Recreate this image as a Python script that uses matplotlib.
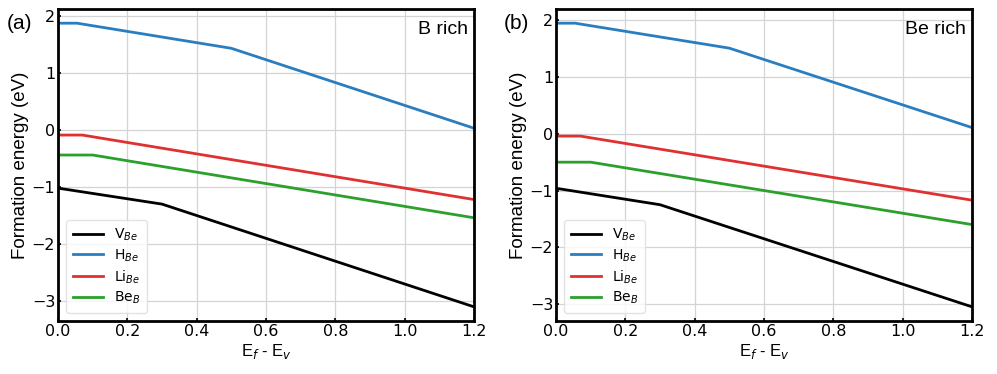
import matplotlib
matplotlib.use("Agg")
import matplotlib.pyplot as plt

# Fermi level break points and formation energies
x_v = [0.0, 0.3, 1.2]
x_h = [0.0, 0.055, 0.5, 1.2]
x_li = [0.0, 0.07, 1.2]
x_beb = [0.0, 0.1, 1.2]

# (a) B rich
v_a = [-1.02, -1.30, -3.10]
h_a = [1.87, 1.87, 1.43, 0.03]
li_a = [-0.09, -0.09, -1.22]
beb_a = [-0.44, -0.44, -1.54]

# (b) Be rich
v_b = [-0.96, -1.25, -3.05]
h_b = [1.95, 1.95, 1.51, 0.11]
li_b = [-0.04, -0.04, -1.17]
beb_b = [-0.50, -0.50, -1.60]

labels = [r'V$_{Be}$', r'H$_{Be}$', r'Li$_{Be}$', r'Be$_{B}$']
colors = ['black', '#2a7ec0', '#e03030', '#2ca02c']
panel_tags = ['(a)', '(b)']
conditions = ['B rich', 'Be rich']

fig = plt.figure(figsize=(9.97, 3.74), dpi=100)
ax_a = fig.add_axes([0.0582, 0.1417, 0.4172, 0.8342])
ax_b = fig.add_axes([0.5577, 0.1417, 0.4172, 0.8342])

panels = [
    (ax_a, [v_a, h_a, li_a, beb_a]),
    (ax_b, [v_b, h_b, li_b, beb_b]),
]
xs = [x_v, x_h, x_li, x_beb]

for i, (ax, ys) in enumerate(panels):
    for x, y, lab, c in zip(xs, ys, labels, colors):
        ax.plot(x, y, color=c, lw=2.0, label=lab)
    ax.set_xlim(0, 1.2)
    ax.set_xticks([0.0, 0.2, 0.4, 0.6, 0.8, 1.0, 1.2])
    ax.set_yticks([-3, -2, -1, 0, 1, 2])
    ax.grid(True, color='#d4d4d4', lw=0.9)
    ax.set_axisbelow(True)
    for sp in ax.spines.values():
        sp.set_linewidth(2.0)
    ax.tick_params(direction='in', length=2.5, width=1.2, labelsize=11.5, pad=2)
    ax.set_xlabel(r'E$_f$ - E$_v$', fontsize=12, family='Liberation Sans', labelpad=2)
    ax.set_ylabel('Formation energy (eV)', fontsize=13.5, family='Liberation Sans', labelpad=2)
    ax.text(0.985, 0.935, conditions[i], transform=ax.transAxes, ha='right', va='center',
            fontsize=14, family='Liberation Sans')
    leg = ax.legend(loc='lower left', fontsize=10, handlelength=2.2, framealpha=0.8,
                    borderaxespad=0.6, labelspacing=0.32, borderpad=0.45)
    leg.get_frame().set_edgecolor('#dddddd')

fig.text(0.007, 0.9385, panel_tags[0], fontsize=15, family='Liberation Sans', va='center')
fig.text(0.5055, 0.9385, panel_tags[1], fontsize=15, family='Liberation Sans', va='center')

fig.savefig('out.png', dpi=100)
